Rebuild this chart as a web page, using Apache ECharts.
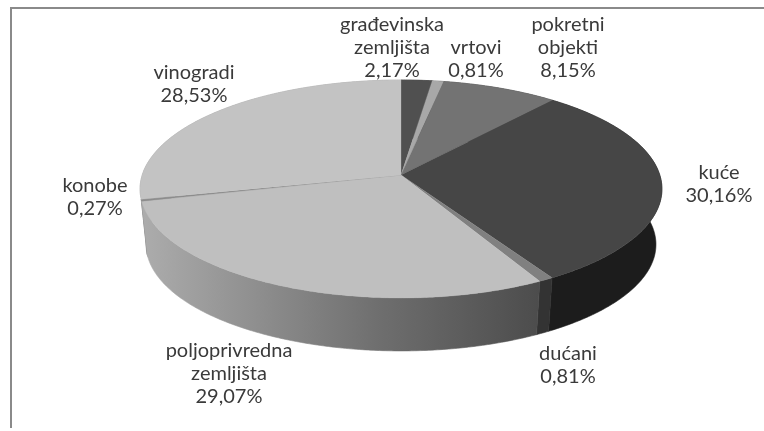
<!DOCTYPE html>
<html><head><meta charset="utf-8">
<style>html,body{margin:0;padding:0;background:#fff}#c{width:764px;height:431px;filter:blur(0.45px)}</style>
<script src="https://cdn.jsdelivr.net/npm/echarts@6/dist/echarts.min.js"></script>
</head><body><div id="c"></div>
<script>
const categories = ['građevinska\nzemljišta','vrtovi','pokretni\nobjekti','kuće','dućani','poljoprivredna\nzemljišta','konobe','vinogradi'];
const values = [2.17,0.81,8.15,30.16,0.81,29.07,0.27,28.53];
const valueLabels = ['2,17%','0,81%','8,15%','30,16%','0,81%','29,07%','0,27%','28,53%'];
const topColors = ['#505050','#a8a8a8','#737373','#464646','#808080','#bfbfbf','#8c8c8c','#c3c3c3'];
const wallColors = ['#333','#666','#444','#1c1c1c','#333333','#888','#8a8a8a','#a8a8a8'];
const labelAnchors = [[392,25],[476,48],[568,25],[719,173],[568,354],[229,351],[95,186],[194,73]];

const CX=401, P=0.1284, A=258.8, TOP={c:175,a:A,b:107.2}, BOT={c:230.8,a:A*0.977,b:104.7};
function proj(pl,th){const X=Math.sin(th),Y=-Math.cos(th),w=1-P*Y;return [CX+pl.a*X/w,pl.c+pl.b*Y/w];}
const total=values.reduce((a,b)=>a+b,0);
let acc=0; const spans=values.map(v=>{const s=acc;acc+=v;return [s/total*2*Math.PI,acc/total*2*Math.PI];});
function arc(pl,a,b){const n=Math.max(2,Math.ceil(Math.abs(b-a)/0.01)),o=[];for(let i=0;i<=n;i++)o.push(proj(pl,a+(b-a)*i/n));return o;}
const wallGrad=new echarts.graphic.LinearGradient(143,0,540,0,[{offset:0,color:'#acacac'},{offset:0.6,color:'#6e6e6e'},{offset:1,color:'#4c4c4c'}],true);

// walls far-to-near, then top faces, then labels
function renderItem(params,api){
  const i=params.dataIndex,[a,b]=spans[i],kids=[];
  const wall=arc(TOP,a,b).concat(arc(BOT,b,a));
  const wf=i===5?wallGrad:wallColors[i];
  kids.push({type:'polygon',z2:Math.round(-Math.cos((a+b)/2)*10)+20,shape:{points:wall},style:{fill:wf,stroke:wf,lineWidth:0.6}});
  const face=[[CX,TOP.c]].concat(arc(TOP,a,b));
  kids.push({type:'polygon',z2:50,shape:{points:face},style:{fill:topColors[i],stroke:topColors[i],lineWidth:0.3}});
  const [lx,ly]=labelAnchors[i];
  kids.push({type:'text',z2:60,x:lx,y:ly-11.5,style:{text:categories[i]+'\n'+valueLabels[i],align:'center',verticalAlign:'top',font:'20px Lato',lineHeight:23,fill:'#3a3a3a'}});
  return {type:'group',children:kids};
}
const chart=echarts.init(document.getElementById('c'),null,{renderer:'canvas'});
chart.setOption({animation:false,
  graphic:[{type:'polyline',silent:true,shape:{points:[[11,428],[11,8],[764,8]]},style:{stroke:'#8a8a8a',lineWidth:2,fill:null}}],
  series:[{type:'custom',coordinateSystem:'none',renderItem,data:values.map((v,i)=>({name:categories[i],value:v})),silent:true}]});
</script></body></html>
